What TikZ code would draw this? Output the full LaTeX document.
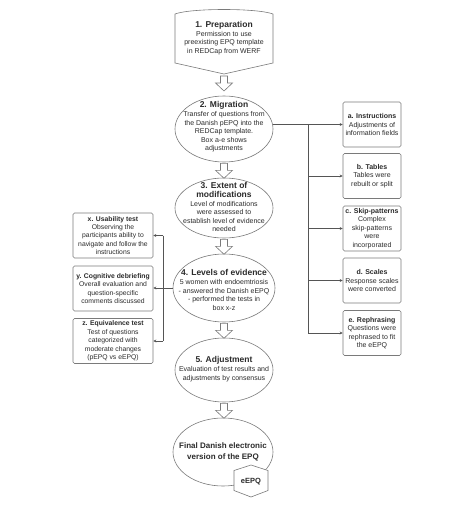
\documentclass[tikz,border=0pt]{standalone}
\usepackage{fontspec}
\setmainfont{Liberation Sans}
\usetikzlibrary{arrows.meta,calc,shapes.geometric}
\definecolor{txtc}{HTML}{2B2B2B}
\definecolor{edgec}{HTML}{7A7A7A}
\definecolor{wirec}{HTML}{555555}
\newcommand\ttlfont{\fontsize{8.5}{9.5}\selectfont\bfseries}
\newcommand\bdyfont{\fontsize{7}{8.5}\selectfont}
\newcommand\smlfont{\fontsize{6.8}{8.4}\selectfont}
\begin{document}
\begin{tikzpicture}[x=1pt,y=-1pt,
 ell/.style={draw=edgec, line width=0.6pt, ellipse, inner sep=0pt},
 lbl/.style={text=txtc, align=center, font=\bdyfont, inner sep=0pt},
 sidebox/.style={draw=edgec, line width=0.6pt, rounded corners=1.5pt, minimum width=58pt, minimum height=45pt, align=center, text=txtc, font=\bdyfont, inner sep=1pt},
 leftbox/.style={sidebox, minimum width=80pt, font=\smlfont},
 wire/.style={draw=wirec, line width=0.5pt},
 tipline/.style={wire, -{Stealth[length=3pt,width=3pt]}},
 blockarr/.pic={\draw[draw=edgec, fill=white, line width=0.6pt] (-3.5,0) -- (3.5,0) -- (3.5,7) -- (8.5,7) -- (0,15) -- (-8.5,7) -- (-3.5,7) -- cycle;}
]
\useasboundingbox[fill=white] (0,0) rectangle (474,506);

% 1. Preparation shape
\draw[draw=edgec, line width=0.6pt] (175,14) .. controls (191,8) and (257,8) .. (273,14) -- (273,63) -- (224,74) -- (175,63) -- cycle;
\coordinate (p1) at (224,74);
\node[lbl] (s1) at (224,38) {{\ttlfont 1. Preparation}\\[0.5pt] Permission to use\\ preexisting EPQ template\\ in REDCap from WERF};

% ellipses
\node[ell, minimum width=98pt, minimum height=66pt] (e2) at (224,129) {};
\node[lbl] (t2) at (224,127) {{\ttlfont 2. Migration}\\[0.5pt] Transfer of questions from\\ the Danish pEPQ into the\\ REDCap template.\\ Box a-e shows\\ adjustments};

\node[ell, minimum width=98pt, minimum height=60pt] (e3) at (224,208) {};
\node[lbl] (t3) at (224,207) {{\ttlfont 3. Extent of}\\ {\ttlfont modifications}\\[0.5pt] Level of modifications\\ were assessed to\\ establish level of evidence\\ needed};

\node[ell, minimum width=102pt, minimum height=68pt] (e4) at (224,288) {};
\node[lbl] (t4) at (224,290) {{\ttlfont 4. Levels of evidence}\\[0.5pt] 5 women with endoemtriosis\\ - answered the Danish eEPQ\\ - performed the tests in\\ box x-z};

\node[ell, minimum width=98pt, minimum height=64pt] (e5) at (224,370) {};
\node[lbl] (t5) at (224,369) {{\ttlfont 5. Adjustment}\\[0.5pt] Evaluation of test results and\\ adjustments by consensus};

\node[ell, minimum width=100pt, minimum height=68pt] (e6) at (223,452) {};
\node[lbl, font=\fontsize{8}{11.5}\selectfont\bfseries] (t6) at (223,452) {Final Danish electronic\\ version of the EPQ};

% hexagon
\coordinate (hc) at (251,481.5);
\draw[shift={(hc)}, draw=edgec, fill=white, line width=0.6pt] (0,-16.5) -- (17,-11) -- (17,9) -- (0,15.5) -- (-17,9) -- (-17,-11) -- cycle;
\node[lbl, font=\fontsize{7.5}{9}\selectfont\bfseries] (hx) at (hc) {eEPQ};

% block arrows
\pic at ($(p1)+(0,2)$) {blockarr};
\pic at ($(e2.south)+(0,1)$) {blockarr};
\pic at ($(e3.south)+(0,1)$) {blockarr};
\pic at ($(e4.south)+(0,1)$) {blockarr};
\pic at ($(e5.south)+(0,1)$) {blockarr};

% right boxes
\node[sidebox] (ba) at (372,124.5) {\textbf{a. Instructions}\\ Adjustments of\\ information fields};
\node[sidebox] (bb) at (372,176) {\textbf{b. Tables}\\ Tables were\\ rebuilt or split};
\node[sidebox] (bc) at (372,228.5) {\textbf{c. Skip-patterns}\\ Complex\\ skip-patterns\\ were\\ incorporated};
\node[sidebox] (bd) at (372,280.5) {\textbf{d. Scales}\\ Response scales\\ were converted};
\node[sidebox] (be) at (372,333) {\textbf{e. Rephrasing}\\ Questions were\\ rephrased to fit\\ the eEPQ};

% left boxes
\node[leftbox] (bx) at (113,235.5) {\textbf{x. Usability test}\\ Observing the\\ participants ability to\\ navigate and follow the\\ instructions};
\node[leftbox] (by) at (113,288.5) {\textbf{y. Cognitive debriefing}\\ Overall evaluation and\\ question-specific\\ comments discussed};
\node[leftbox] (bz) at (113,341) {\textbf{z. Equivalence test}\\ Test of questions\\ categorized with\\ moderate changes\\ (pEPQ vs eEPQ)};

% right bus
\coordinate (rbus) at (308,0);
\draw[tipline] (e2.east |- ba.west) -- (ba.west);
\draw[wire] (rbus |- ba.west) -- (rbus |- be.west);
\foreach \b in {bb,bc,bd,be} \draw[tipline] (rbus |- \b.west) -- (\b.west);

% left bus
\coordinate (lbus) at (163,0);
\draw[tipline] (e4.west) -- (e4.west -| by.east);
\draw[wire] (lbus |- bx.east) -- (lbus |- bz.east);
\draw[tipline] (lbus |- bx.east) -- (bx.east);
\draw[tipline] (lbus |- bz.east) -- (bz.east);
\end{tikzpicture}
\end{document}
